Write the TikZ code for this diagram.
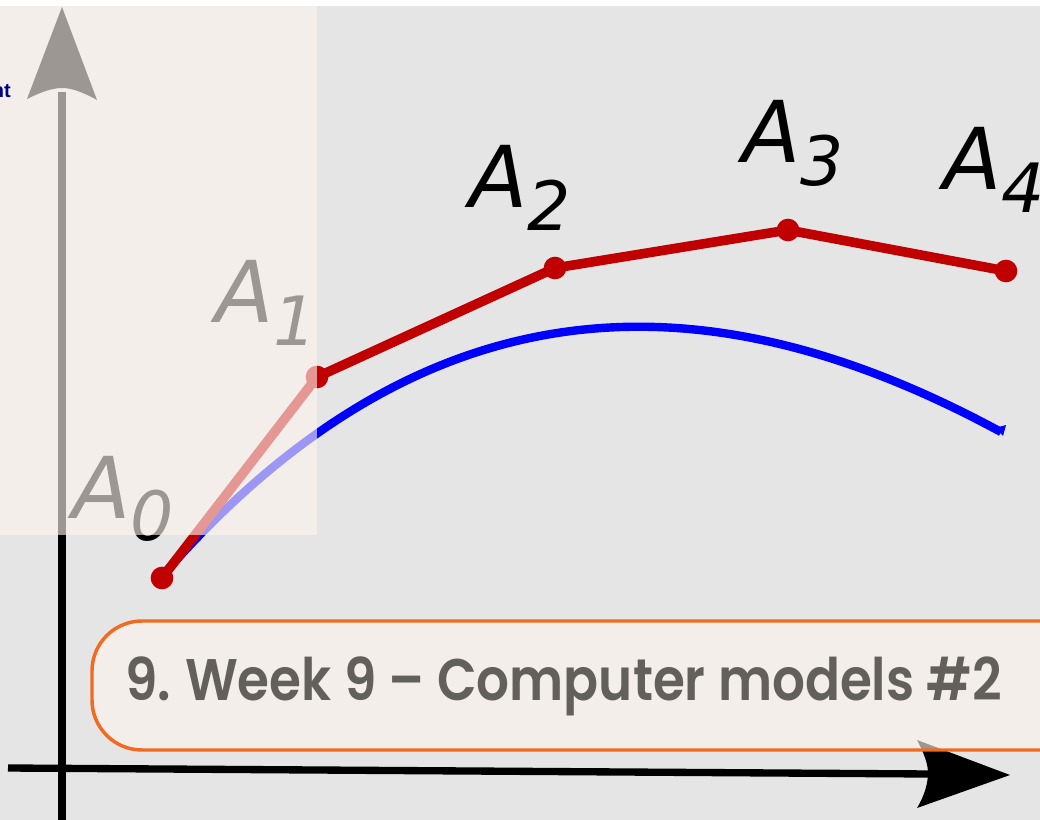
\documentclass[tikz,border=0pt]{standalone}
\usepackage{fontspec}
\newfontfamily\labfont{DejaVu Sans}
\newfontfamily\titlefont{Poppins SemiBold}
\newfontfamily\ntfont{Liberation Sans}
\definecolor{bggray}{RGB}{229,229,229}
\definecolor{beige}{RGB}{252,244,238}
\definecolor{ptred}{RGB}{192,0,0}
\definecolor{curveblue}{RGB}{0,0,255}
\definecolor{boxorange}{RGB}{242,106,33}
\definecolor{titlegray}{RGB}{99,96,92}
\definecolor{navytext}{RGB}{0,0,128}
\newcommand\Alab[1]{{\labfont\itshape\fontsize{64}{64}\selectfont A\raisebox{-17pt}{\fontsize{51}{51}\selectfont #1}}}
\tikzset{
  axisline/.style={line width=5.5pt, black},
  axishead/.style={fill=black},
  redline/.style={line width=7.2pt, ptred, line join=round},
  ptdot/.style={circle, fill=ptred, inner sep=0pt, minimum size=17pt},
  bluecurve/.style={line width=6.3pt, curveblue},
  lab/.style={anchor=base west, inner sep=0pt, text=black},
  veil/.style={fill=beige, fill opacity=0.62},
}
\begin{document}
\begin{tikzpicture}[x=0.75pt,y=-0.75pt]
\useasboundingbox (0,0) rectangle (1040,820);
\clip (0,0) rectangle (1040,820);
\fill[white] (0,0) rectangle (1040,820);
\fill[bggray] (0,6) rectangle (1040,820);
% axes
\draw[axisline] (62,830) -- (62,92);
\fill[axishead] (62,7) -- (27,99) .. controls (45,90) and (55,88) .. (62,88) .. controls (69,88) and (79,90) .. (97,100) -- cycle;
\draw[axisline] (8,768) -- (930,774);
\fill[axishead] (1010,775) -- (917,740) .. controls (925,755) and (928,765) .. (928,773) .. controls (928,782) and (925,795) .. (917,808) -- cycle;
% blue curve
\draw[bluecurve] (163,575) .. controls (440,258) and (730,285) .. (1001,432);
\fill[curveblue] (995,428) -- (1006,425) -- (1003,436) -- cycle;
% control polygon
\node[ptdot] (a0) at (162,578) {};
\node[ptdot] (a1) at (317,377) {};
\node[ptdot] (a2) at (555,268) {};
\node[ptdot] (a3) at (788,230) {};
\node[ptdot] (a4) at (1006,271) {};
\draw[redline] (a0.center) -- (a1.center) -- (a2.center) -- (a3.center) -- (a4.center);
% labels
\node[lab] (l0) at (72,518) {\Alab{0}};
\node[lab] (l1) at (215,323) {\Alab{1}};
\node[lab] (l2) at (469,208) {\Alab{2}};
\node[lab] (l3) at (742,163) {\Alab{3}};
\node[lab] (l4) at (943,190) {\Alab{4}};
% veil
\fill[veil] (0,6) rectangle (317,535);
\node[anchor=base east, inner sep=0pt, text=navytext, font=\ntfont\bfseries\fontsize{15}{15}\selectfont] (nt) at (11,98) {nt};
% title box
\draw[boxorange, line width=2.6pt, veil, rounded corners=37.5pt] (92,621) rectangle (1120,750);
\node[anchor=base west, inner sep=0pt, text=titlegray, font=\titlefont\fontsize{44}{44}\selectfont] (title) at (125,700) {\scalebox{0.88}[1]{9.\hspace{12pt}Week 9 – Computer models \#2}};
\end{tikzpicture}
\end{document}
